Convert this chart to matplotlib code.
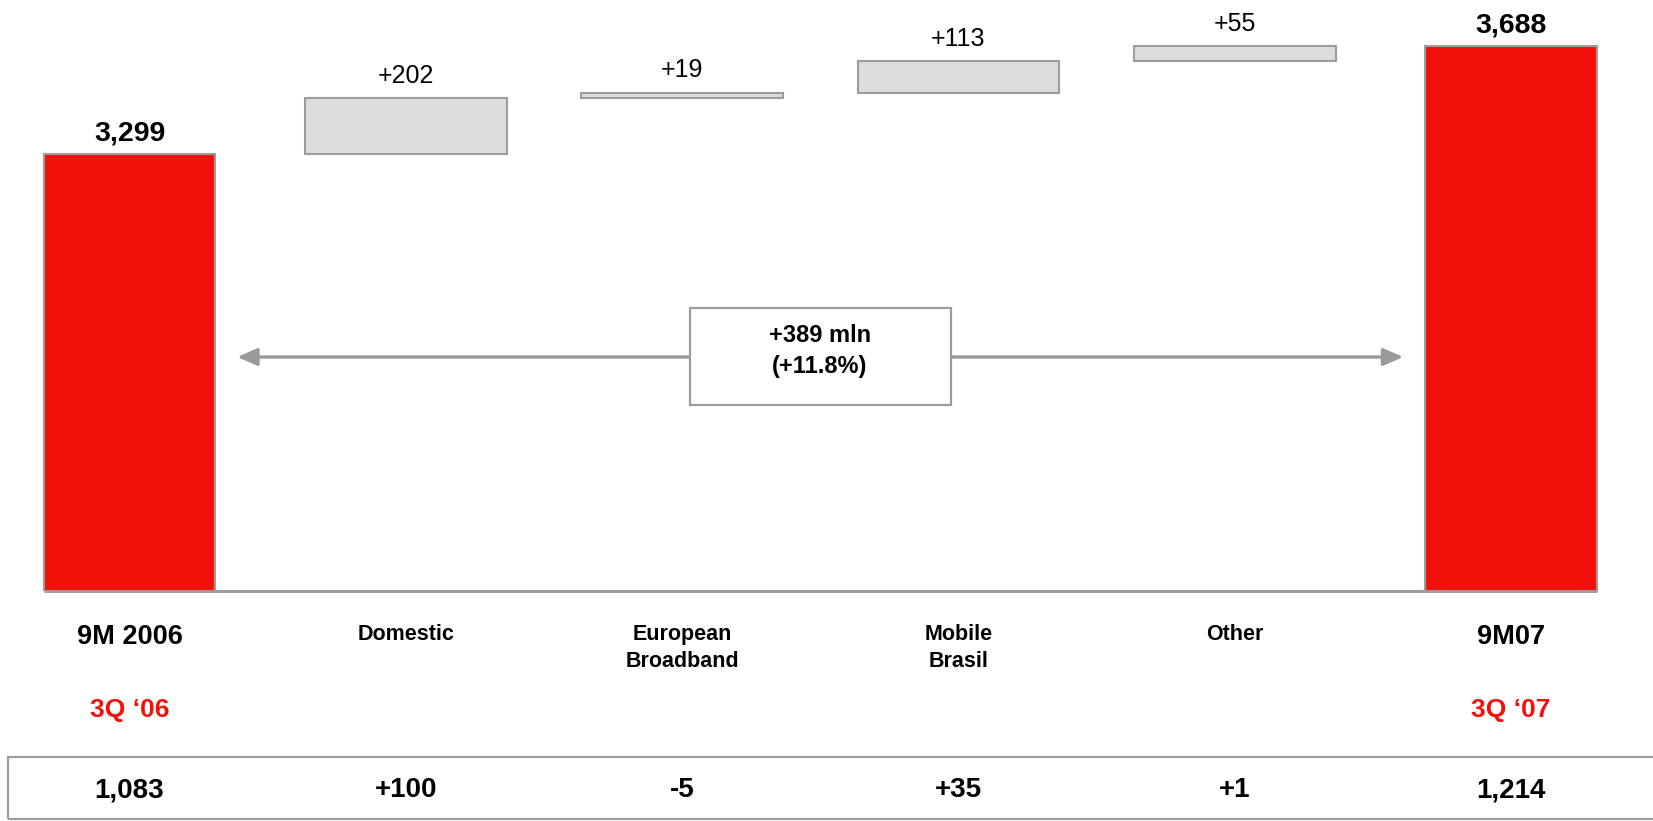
import matplotlib
matplotlib.use("Agg")
import matplotlib.pyplot as plt
from matplotlib.patches import Rectangle
from matplotlib.transforms import blended_transform_factory

# ---- data -------------------------------------------------------------
categories = ["9M 2006", "Domestic", "European\nBroadband", "Mobile\nBrasil", "Other", "9M07"]
start_total = 3299
deltas = [202, 19, 113, 55]
end_total = 3688
quarter_labels = ["3Q \u201806", "", "", "", "", "3Q \u201807"]
quarter_start = 1083
quarter_deltas = [100, -5, 35, 1]
quarter_end = 1214
change_abs = 389
change_pct = 11.8

# ---- style ------------------------------------------------------------
RED = "#F2110A"
GREY_FILL = "#DCDCDC"
EDGE = "#9C9C9C"
FONT = ["Liberation Sans", "DejaVu Sans"]
plt.rcParams["font.family"] = FONT

W, H = 1653, 821
fig = plt.figure(figsize=(W / 100, H / 100), dpi=100)
base_px = 591
ax = fig.add_axes([0, 1 - base_px / H, 1, base_px / H])
ax.set_axis_off()

step_px = 276.3
ax.set_xlim(-129.5 / step_px, (W - 129.5) / step_px)
px_per_unit = 0.2776
y_floor = 1725
ax.set_ylim(y_floor, y_floor + base_px / px_per_unit)

n = len(categories)
xs = list(range(n))
red_w, grey_w = 0.62, 0.73

# totals
ax.bar([xs[0], xs[-1]], [start_total, end_total], width=red_w, color=RED,
       edgecolor=EDGE, linewidth=1.5, zorder=2)

# floating increments
bottoms = []
run = start_total
for d in deltas:
    bottoms.append(run)
    run += d
ax.bar(xs[1:-1], deltas, bottom=bottoms, width=grey_w, color=GREY_FILL,
       edgecolor=EDGE, linewidth=1.5, zorder=2)

# value labels
for x, v in [(xs[0], start_total), (xs[-1], end_total)]:
    ax.annotate(f"{v:,}", (x, v), xytext=(0, 15), textcoords="offset points",
                ha="center", va="center", fontsize=20.5, fontweight="bold")
for x, b, d in zip(xs[1:-1], bottoms, deltas):
    ax.annotate(f"+{d}", (x, b + d), xytext=(0, 16), textcoords="offset points",
                ha="center", va="center", fontsize=18)

# baseline
ax.plot([xs[0] - red_w / 2, xs[-1] + red_w / 2], [y_floor, y_floor],
        color=EDGE, lw=2.2, clip_on=False, zorder=4, solid_capstyle="butt")

def fy(px):
    return 1 - px / H

tr = blended_transform_factory(ax.transData, fig.transFigure)

# category labels
for i, (x, lab) in enumerate(zip(xs, categories)):
    ends = i in (0, n - 1)
    ax.text(x, fy(624), lab, transform=tr, ha="center", va="top",
            fontsize=19.5 if ends else 15.5, fontweight="bold",
            linespacing=1.35, clip_on=False)

# quarter labels
for x, lab in zip(xs, quarter_labels):
    if lab:
        ax.text(x, fy(710), lab, transform=tr, ha="center", va="center",
                fontsize=19, fontweight="bold", color=RED, clip_on=False)

# quarterly table row
fig.add_artist(Rectangle((8 / W, fy(819)), 1.2, (819 - 757) / H,
                         transform=fig.transFigure, facecolor="none",
                         edgecolor=EDGE, linewidth=1.6))
q_text = [f"{quarter_start:,}"] + [f"{d:+d}" for d in quarter_deltas] + [f"{quarter_end:,}"]
for x, t in zip(xs, q_text):
    ax.text(x, fy(790), t, transform=tr, ha="center", va="center",
            fontsize=20, fontweight="bold", clip_on=False)

# overall change arrow and box
arrow_y = fy(357)
ax.annotate("", xy=(xs[0] + red_w / 2 + 0.08, arrow_y), xycoords=tr,
            xytext=(xs[-1] - red_w / 2 - 0.08, arrow_y), textcoords=tr,
            arrowprops=dict(arrowstyle="<|-|>,head_length=0.8,head_width=0.35",
                            mutation_scale=15, color="#9A9A9A", lw=2.4,
                            shrinkA=0, shrinkB=0))
fig.add_artist(Rectangle((690 / W, fy(405)), (951 - 690) / W, (405 - 308) / H,
                         transform=fig.transFigure, facecolor="white",
                         edgecolor=EDGE, linewidth=1.6, zorder=5))
fig.text(820 / W, fy(351), f"+{change_abs} mln\n(+{change_pct:.1f}%)",
         ha="center", va="center", fontsize=17, fontweight="bold",
         linespacing=1.45, zorder=6)

fig.savefig("out.png", dpi=100, facecolor="white")
